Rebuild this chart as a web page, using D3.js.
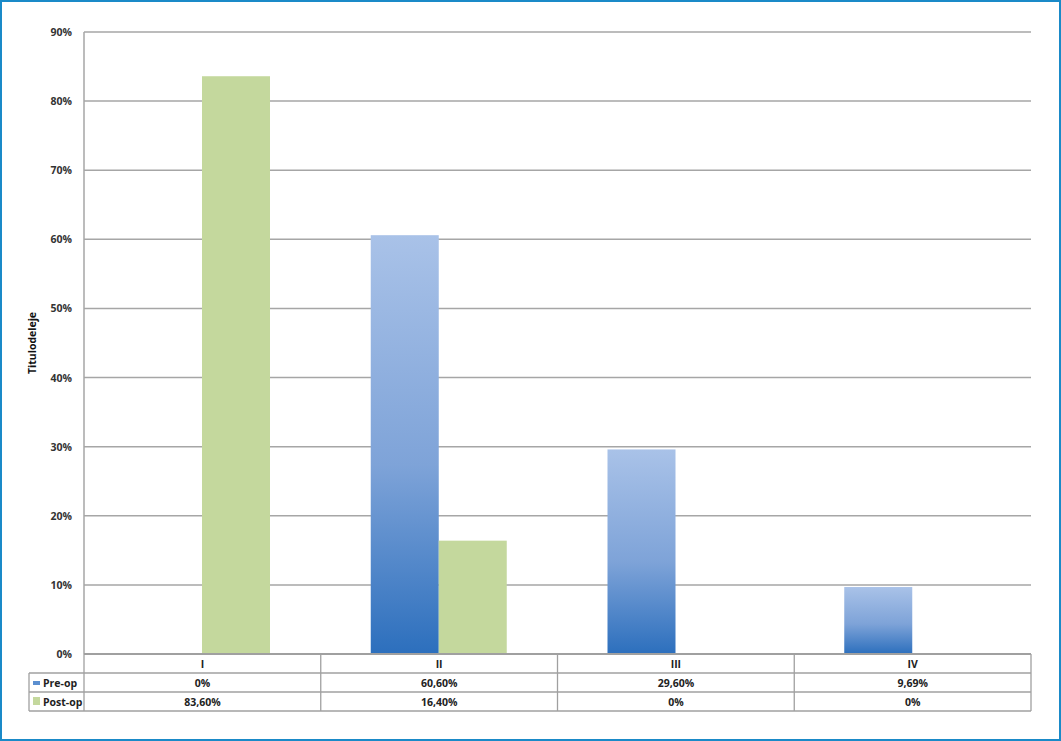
<!DOCTYPE html>
<html><head><meta charset="utf-8">
<script src="https://cdn.jsdelivr.net/npm/d3@7"></script>
<style>
body{margin:0;background:#fff;}
svg{display:block;font-family:"Open Sans","Noto Sans",sans-serif;}
</style></head>
<body><svg id="c" width="1061" height="741"></svg>
<script>
const categories = ["I", "II", "III", "IV"];
const seriesNames = ["Pre-op", "Post-op"];
const preOp = [0, 60.6, 29.6, 9.69];
const postOp = [83.6, 16.4, 0, 0];
const preOpLabels = ["0%", "60,60%", "29,60%", "9,69%"];
const postOpLabels = ["83,60%", "16,40%", "0%", "0%"];
const yTicks = [0, 10, 20, 30, 40, 50, 60, 70, 80, 90];
const axisTitle = "Titulodeleje";

(function () {
const svg = d3.select("#c");
const W = 1061, H = 741;
const pL = 84, pR = 1031, pT = 32, pB = 654;

// frame
svg.append("rect").attr("x", 1).attr("y", 1).attr("width", W - 2).attr("height", H - 2)
  .attr("fill", "#fff").attr("stroke", "#1a8ac8").attr("stroke-width", 2);

const defs = svg.append("defs");
const g = defs.append("linearGradient").attr("id", "blueGrad")
  .attr("x1", 0).attr("y1", 0).attr("x2", 0).attr("y2", 1);
g.append("stop").attr("offset", "0%").attr("stop-color", "#a9c2e8");
g.append("stop").attr("offset", "55%").attr("stop-color", "#7ea3d8");
g.append("stop").attr("offset", "100%").attr("stop-color", "#2c6fbd");

const x = d3.scaleBand().domain(categories).range([pL, pR]);
const y = d3.scaleLinear().domain([0, 90]).range([pB, pT]);

// gridlines
svg.append("g").selectAll("line").data(yTicks.filter(d => d > 0)).join("line")
  .attr("x1", pL).attr("x2", pR)
  .attr("y1", d => y(d)).attr("y2", d => y(d))
  .attr("stroke", "#a6a6a6").attr("stroke-width", 1.5);

// y axis labels
svg.append("g").selectAll("text").data(yTicks).join("text")
  .attr("x", 72).attr("y", d => y(d) + 4)
  .attr("text-anchor", "end").attr("font-size", 10.5).attr("font-weight", "bold")
  .attr("fill", "#333").text(d => d + "%");

// axis title
svg.append("text").attr("transform", `translate(36,${(pT + pB) / 2}) rotate(-90)`)
  .attr("text-anchor", "middle").attr("font-size", 10.5).attr("font-weight", "bold")
  .attr("fill", "#111").text(axisTitle);

// bars
const bw = 68;
const off = 50;
const data = categories.map((c, i) => ({c, pre: preOp[i], post: postOp[i]}));
svg.append("g").selectAll("rect").data(data.filter(d => d.pre > 0)).join("rect")
  .attr("x", d => x(d.c) + off).attr("width", bw)
  .attr("y", d => y(d.pre)).attr("height", d => y(0) - y(d.pre))
  .attr("fill", "url(#blueGrad)");
svg.append("g").selectAll("rect").data(data.filter(d => d.post > 0)).join("rect")
  .attr("x", d => x(d.c) + off + bw).attr("width", bw)
  .attr("y", d => y(d.post)).attr("height", d => y(0) - y(d.post))
  .attr("fill", "#c4d89d");

// y axis line
svg.append("line").attr("x1", pL).attr("x2", pL).attr("y1", pT).attr("y2", pB)
  .attr("stroke", "#a6a6a6").attr("stroke-width", 1.5);

// data table
const rowH = 19;
const r0 = pB + 1, r1 = r0 + 18, r2 = r1 + rowH, r3 = r2 + rowH;
const tl = 29;
const tc = "#a0a0a0";
const tbl = svg.append("g").attr("stroke", tc).attr("stroke-width", 1.3);
tbl.append("line").attr("x1", pL).attr("x2", pR).attr("y1", pB).attr("y2", pB).attr("stroke-width", 1.8);
tbl.append("line").attr("x1", tl).attr("x2", pR).attr("y1", r1).attr("y2", r1);
tbl.append("line").attr("x1", tl).attr("x2", pR).attr("y1", r2).attr("y2", r2);
tbl.append("line").attr("x1", tl).attr("x2", pR).attr("y1", r3).attr("y2", r3);
tbl.append("line").attr("x1", tl).attr("x2", tl).attr("y1", r1).attr("y2", r3);
tbl.append("line").attr("x1", pL).attr("x2", pL).attr("y1", pB).attr("y2", r3);
tbl.append("line").attr("x1", pR).attr("x2", pR).attr("y1", pB).attr("y2", r3);
tbl.selectAll("line.v").data(categories.slice(1)).join("line").attr("class", "v")
  .attr("x1", d => x(d)).attr("x2", d => x(d)).attr("y1", pB).attr("y2", r3);

const txt = svg.append("g").attr("font-size", 10.5).attr("font-weight", "bold")
  .attr("fill", "#222").attr("text-anchor", "middle");
txt.selectAll("text.cat").data(categories).join("text").attr("class", "cat")
  .attr("x", d => x(d) + x.bandwidth() / 2).attr("y", r0 + 12.5).text(d => d);
txt.selectAll("text.pre").data(preOpLabels).join("text").attr("class", "pre")
  .attr("x", (d, i) => x(categories[i]) + x.bandwidth() / 2).attr("y", r1 + 13.5).text(d => d);
txt.selectAll("text.post").data(postOpLabels).join("text").attr("class", "post")
  .attr("x", (d, i) => x(categories[i]) + x.bandwidth() / 2).attr("y", r2 + 13.5).text(d => d);

// legend keys
const legColors = ["#5b8fd0", "#c4d89d"];
seriesNames.forEach((s, i) => {
  const ry = i === 0 ? r1 : r2;
  svg.append("rect").attr("x", 33).attr("y", ry + (i === 0 ? 8 : 5)).attr("width", 7)
    .attr("height", i === 0 ? 4 : 8).attr("fill", legColors[i]);
  svg.append("text").attr("x", 43).attr("y", ry + 13.5).attr("font-size", 10.5)
    .attr("font-weight", "bold").attr("fill", "#222").text(s);
});
})();
</script></body></html>
